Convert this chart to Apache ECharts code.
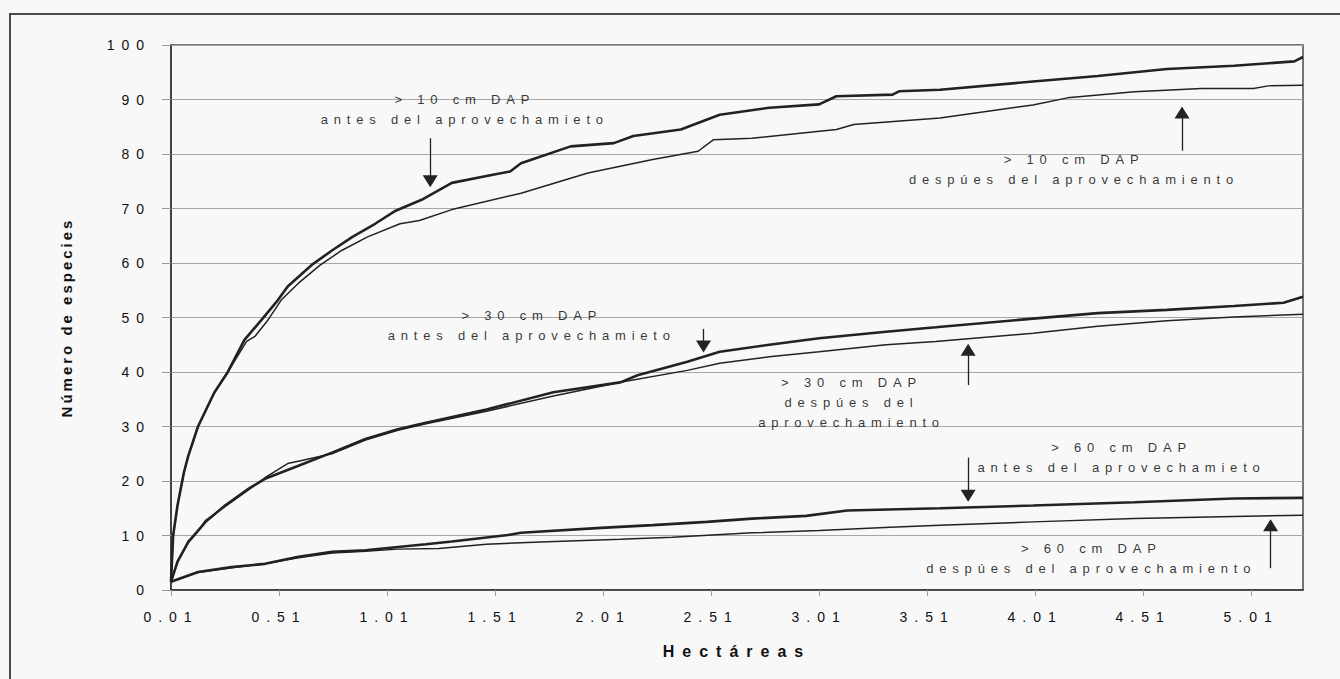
<!DOCTYPE html>
<html>
<head>
<meta charset="utf-8">
<script src="https://cdn.jsdelivr.net/npm/echarts@6/dist/echarts.min.js"></script>
<style>
  html, body { margin: 0; padding: 0; background: #f7f8f7; }
  #chart { width: 1340px; height: 679px; }
  /* spaced-out lettering, keyed on the font size of each text role */
  #chart text[style*="14px"] { letter-spacing: 7px; }
  #chart text[style*="13px"] { letter-spacing: 5.8px; }
  #chart text[style*="16px"] { letter-spacing: 8px; }
  #chart text[style*="15px"] { letter-spacing: 3px; }
</style>
</head>
<body>
<div id="chart"></div>
<script>
// Hectáreas tick labels
const xTicks = [0.01, 0.51, 1.01, 1.51, 2.01, 2.51, 3.01, 3.51, 4.01, 4.51, 5.01];

// species accumulation curves: [hectáreas, número de especies]
const antes10 = [
  [0.01, 1.5], [0.02, 10], [0.04, 15.5], [0.07, 21.6], [0.09, 24.6], [0.135, 30],
  [0.21, 36.2], [0.27, 39.8], [0.35, 45.9], [0.43, 49.6], [0.505, 53.2], [0.55, 55.7],
  [0.66, 59.6], [0.755, 62.3], [0.85, 64.8], [0.955, 67.2], [1.05, 69.6], [1.17, 71.6],
  [1.31, 74.7], [1.5, 76.2], [1.58, 76.8], [1.63, 78.3], [1.86, 81.4], [2.06, 82.0],
  [2.15, 83.3], [2.37, 84.5], [2.55, 87.2], [2.78, 88.5], [3.01, 89.1], [3.09, 90.6],
  [3.35, 90.9], [3.38, 91.5], [3.57, 91.8], [4.0, 93.3], [4.3, 94.3], [4.62, 95.6],
  [4.93, 96.2], [5.21, 97.0], [5.25, 97.8]
];
const despues10 = [
  [0.01, 1.5], [0.02, 10], [0.04, 15.5], [0.07, 21.6], [0.09, 24.6], [0.135, 30],
  [0.21, 36.2], [0.27, 39.8], [0.36, 45.6], [0.40, 46.6], [0.46, 49.6], [0.52, 53.2],
  [0.60, 56.3], [0.70, 59.6], [0.80, 62.3], [0.92, 64.8], [1.07, 67.2], [1.16, 67.8],
  [1.31, 69.8], [1.63, 72.8], [1.94, 76.5], [2.24, 79.0], [2.45, 80.5], [2.52, 82.6],
  [2.70, 82.9], [3.09, 84.5], [3.17, 85.4], [3.57, 86.6], [4.0, 89.0], [4.16, 90.3],
  [4.47, 91.4], [4.78, 92.0], [5.02, 92.0], [5.09, 92.5], [5.25, 92.6]
];
const antes30 = [
  [0.01, 1.5], [0.04, 5.2], [0.09, 8.8], [0.17, 12.5], [0.26, 15.5], [0.37, 18.6],
  [0.445, 20.4], [0.60, 22.8], [0.755, 25.2], [0.91, 27.7], [1.06, 29.5], [1.19, 30.7],
  [1.47, 33.1], [1.78, 36.3], [2.09, 38.1], [2.17, 39.4], [2.40, 41.9], [2.55, 43.7],
  [2.78, 45.0], [3.01, 46.2], [3.32, 47.4], [3.55, 48.2], [4.0, 49.8], [4.3, 50.8],
  [4.62, 51.4], [4.93, 52.1], [5.16, 52.7], [5.25, 53.8]
];
const despues30 = [
  [0.01, 1.5], [0.04, 5.0], [0.09, 9.0], [0.14, 11.0], [0.17, 12.8], [0.26, 15.3],
  [0.37, 18.4], [0.445, 20.6], [0.55, 23.2], [0.62, 23.8], [0.755, 25.0], [0.91, 27.5],
  [1.06, 29.3], [1.19, 30.5], [1.47, 32.8], [1.78, 35.6], [2.09, 38.1], [2.40, 40.3],
  [2.55, 41.6], [2.78, 42.8], [3.01, 43.7], [3.32, 45.0], [3.55, 45.6], [4.0, 47.1],
  [4.3, 48.4], [4.62, 49.4], [4.93, 50.1], [5.25, 50.6]
];
const antes60 = [
  [0.01, 1.5], [0.135, 3.3], [0.29, 4.2], [0.445, 4.8], [0.60, 6.1], [0.755, 7.0],
  [0.91, 7.3], [1.06, 7.9], [1.19, 8.4], [1.31, 8.9], [1.57, 10.1], [1.63, 10.5],
  [2.0, 11.4], [2.24, 11.9], [2.49, 12.5], [2.70, 13.1], [2.95, 13.6], [3.14, 14.6],
  [3.57, 15.0], [4.0, 15.5], [4.47, 16.1], [4.93, 16.8], [5.25, 16.9]
];
const despues60 = [
  [0.01, 1.5], [0.135, 3.2], [0.29, 4.1], [0.445, 4.8], [0.60, 5.9], [0.755, 6.8],
  [0.91, 7.1], [1.06, 7.5], [1.25, 7.6], [1.47, 8.4], [1.72, 8.8], [2.09, 9.3],
  [2.33, 9.7], [2.70, 10.5], [3.01, 10.9], [3.34, 11.5], [3.57, 11.9], [4.0, 12.5],
  [4.47, 13.1], [4.93, 13.5], [5.25, 13.7]
];

// curve labels, anchored in data space
const noteTexts = [
  '> 10 cm DAP\nantes del aprovechamieto',
  '> 10 cm DAP\ndespúes del aprovechamiento',
  '> 30 cm DAP\nantes del aprovechamieto',
  '> 30 cm DAP\ndespúes del\naprovechamiento',
  '> 60 cm DAP\nantes del aprovechamieto',
  '> 60 cm DAP\ndespúes del aprovechamiento'
];
const noteAnchors = [[1.37, 88.1], [4.19, 77.2], [1.68, 48.6], [3.16, 34.4], [4.41, 24.4], [4.27, 5.8]];

// pointer arrows: [hectáreas, tail, head]
const arrows = [[1.21, 82.9, 75.0], [4.69, 80.6, 87.6], [2.475, 47.9, 44.7],
                [3.70, 37.6, 44.1], [3.70, 24.3, 17.3], [5.10, 4.0, 11.9]];

const INK = '#222222';
const FONT = '"Liberation Sans", Arial, sans-serif';

function curve(name, data, width) {
  return {
    name, type: 'line', data, symbol: 'none', smooth: false,
    lineStyle: { color: INK, width }, z: 3
  };
}

const chart = echarts.init(document.getElementById('chart'), null, { renderer: 'svg' });
chart.setOption({
  animation: false,
  backgroundColor: '#f7f8f7',
  graphic: [{
    type: 'rect', shape: { x: 10, y: 14, width: 1400, height: 720 },
    style: { fill: 'none', stroke: '#4a4a4a', lineWidth: 2 }, silent: true
  }],
  grid: {
    left: 171, right: 37, top: 45, bottom: 89,
    show: true, borderColor: '#4a4a4a', borderWidth: 1.5, backgroundColor: 'transparent'
  },
  xAxis: {
    type: 'value', min: 0.01, max: 5.25,
    name: 'Hectáreas', nameLocation: 'middle', nameGap: 53,
    nameTextStyle: { fontFamily: FONT, fontSize: 16, fontWeight: 'bold', color: '#111' },
    axisLine: { show: true, lineStyle: { color: '#333', width: 1.5 } },
    axisTick: { show: true, length: 6, customValues: xTicks, lineStyle: { color: '#9a9a9a' } },
    axisLabel: {
      customValues: xTicks, margin: 20, fontFamily: FONT, fontSize: 14, color: '#111',
      formatter: v => v.toFixed(2)
    },
    splitLine: { show: false }
  },
  yAxis: {
    type: 'value', min: 0, max: 100, interval: 10,
    name: 'Número de especies', nameLocation: 'middle', nameRotate: 90, nameGap: 97,
    nameTextStyle: { fontFamily: FONT, fontSize: 15, fontWeight: 'bold', color: '#111' },
    axisLine: { show: true, lineStyle: { color: '#333', width: 1.5 } },
    axisTick: { show: true, length: 9, lineStyle: { color: '#9a9a9a' } },
    axisLabel: { margin: 20, fontFamily: FONT, fontSize: 14, color: '#111' },
    splitLine: { show: true, lineStyle: { color: '#a6a6a6', width: 1 } }
  },
  series: [
    curve('> 10 cm DAP antes', antes10, 2.6),
    curve('> 10 cm DAP después', despues10, 1.5),
    curve('> 30 cm DAP antes', antes30, 2.6),
    curve('> 30 cm DAP después', despues30, 1.5),
    curve('> 60 cm DAP antes', antes60, 2.6),
    curve('> 60 cm DAP después', despues60, 1.5),
    {
      name: 'notas', type: 'scatter', symbolSize: 1, z: 5,
      itemStyle: { color: 'transparent' },
      data: noteAnchors.map((c, i) => ({ value: c, name: noteTexts[i] })),
      label: {
        show: true, position: 'inside', formatter: '{b}',
        fontFamily: FONT, fontSize: 13, lineHeight: 20, color: '#000', align: 'center'
      },
      markLine: {
        silent: true, animation: false,
        symbol: ['none', 'triangle'], symbolSize: [15, 12],
        lineStyle: { color: INK, width: 1.3, type: 'solid' },
        label: { show: false },
        emphasis: { disabled: true },
        data: arrows.map(a => [{ coord: [a[0], a[1]] }, { coord: [a[0], a[2]] }])
      }
    }
  ]
});
</script>
</body>
</html>
